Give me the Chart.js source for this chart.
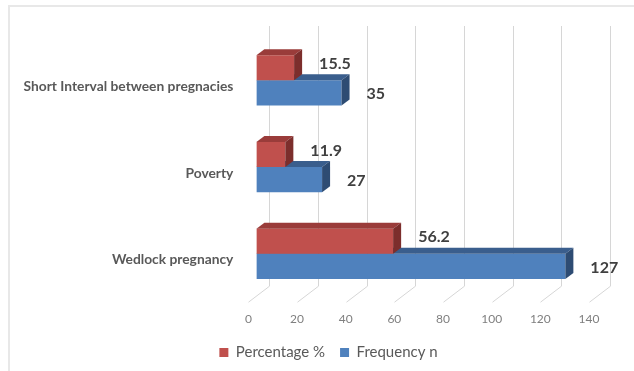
<!DOCTYPE html>
<html>
<head>
<meta charset="utf-8">
<title>Reasons</title>
<script src="https://cdn.jsdelivr.net/npm/chart.js@4/dist/chart.umd.min.js"></script>
<style>
    html, body { margin: 0; padding: 0; background: #fff; }
    #wrap { position: relative; width: 634px; height: 371px; overflow: hidden; }
    #frame {
        position: absolute; left: 8px; top: 5px; right: -2px; bottom: -2px;
        border-top: 2px solid #e8e8e8; border-left: 2px solid #e8e8e8;
    }
    #chart { position: absolute; left: 0; top: 0; }
</style>
</head>
<body>
<div id="wrap">
    <div id="frame"></div>
    <canvas id="chart" width="634" height="371"></canvas>
</div>
<script>
// Gegevens
const categories = ['Short Interval between pregnacies', 'Poverty', 'Wedlock pregnancy'];
const percentage = [15.5, 11.9, 56.2];
const frequency = [35, 27, 127];
const xTicks = [0, 20, 40, 60, 80, 100, 120, 140];

const FONT = 'Lato, "Open Sans", sans-serif';

// 3D look: diepte van de balken, achterwand en vloer
const depth = { dx: 8, dy: -6 };
const wall = { dx: 13, dy: -11 };
const floor = { dx: -21, dy: 16 };
const shades = [
    { top: '#9a3c3a', side: '#7c2e2c', labelDy: -4 },
    { top: '#3a5e8d', side: '#2e4c73', labelDy: 1 }
];

const threeD = {
    id: 'threeD',
    beforeDatasetsDraw(chart) {
        const ctx = chart.ctx;
        const xs = chart.scales.x;
        const area = chart.chartArea;
        ctx.save();
        ctx.strokeStyle = '#d6d6d6';
        ctx.lineWidth = 1;
        ctx.beginPath();
        xTicks.forEach(v => {
            const px = Math.round(xs.getPixelForValue(v) + wall.dx) + 0.5;
            const top = area.top + wall.dy;
            const bottom = area.bottom + wall.dy;
            ctx.moveTo(px, top);
            ctx.lineTo(px, bottom);
            ctx.lineTo(px + floor.dx, bottom + floor.dy);
        });
        ctx.stroke();
        ctx.restore();
    },
    afterDatasetDraw(chart, args) {
        const ctx = chart.ctx;
        const s = shades[args.index];
        const values = chart.data.datasets[args.index].data;
        ctx.save();
        args.meta.data.forEach((bar, j) => {
            const p = bar.getProps(['x', 'y', 'base', 'height'], true);
            const top = p.y - p.height / 2;
            const bottom = p.y + p.height / 2;
            const left = p.base;
            const right = p.x;

            ctx.fillStyle = s.top;
            ctx.beginPath();
            ctx.moveTo(left, top);
            ctx.lineTo(left + depth.dx, top + depth.dy);
            ctx.lineTo(right + depth.dx, top + depth.dy);
            ctx.lineTo(right, top);
            ctx.closePath();
            ctx.fill();

            ctx.fillStyle = s.side;
            ctx.beginPath();
            ctx.moveTo(right, top);
            ctx.lineTo(right + depth.dx, top + depth.dy);
            ctx.lineTo(right + depth.dx, bottom + depth.dy);
            ctx.lineTo(right, bottom);
            ctx.closePath();
            ctx.fill();

            // waardelabel
            ctx.fillStyle = '#404040';
            ctx.font = 'bold 16px ' + FONT;
            ctx.textAlign = 'left';
            ctx.textBaseline = 'middle';
            ctx.fillText(String(values[j]), right + 25, p.y + s.labelDy);
        });
        ctx.restore();
    }
};

new Chart(document.getElementById('chart').getContext('2d'), {
    type: 'bar',
    data: {
        labels: categories,
        datasets: [
            { label: 'Percentage %', data: percentage, backgroundColor: '#c0504d', borderWidth: 0 },
            { label: 'Frequency n', data: frequency, backgroundColor: '#4f81bd', borderWidth: 0 }
        ]
    },
    options: {
        indexAxis: 'y',
        responsive: false,
        animation: false,
        categoryPercentage: 0.58,
        barPercentage: 1,
        // rechts negatief + lege as: legenda schuift naar rechts zoals in het origineel
        layout: { padding: { top: 37, right: -23, bottom: 1, left: 0 } },
        scales: {
            x: {
                min: 0,
                max: 140,
                ticks: {
                    stepSize: 20,
                    labelOffset: -8,
                    padding: 15,
                    color: '#7f7f7f',
                    font: { family: FONT, size: 12 }
                },
                grid: { display: false, drawTicks: false },
                border: { display: false },
                afterFit: scale => { scale.height = 32.8; }
            },
            y: {
                ticks: {
                    padding: 23,
                    labelOffset: 6,
                    color: '#595959',
                    font: { family: FONT, size: 13.8, weight: 'bold' }
                },
                grid: { display: false, drawTicks: false },
                border: { display: false },
                afterFit: scale => { scale.width = 256.4; }
            },
            y2: {
                type: 'category',
                position: 'right',
                ticks: { display: false },
                grid: { display: false, drawTicks: false },
                border: { display: false },
                afterFit: scale => { scale.width = 60; }
            }
        },
        plugins: {
            legend: {
                position: 'bottom',
                labels: {
                    boxWidth: 9,
                    boxHeight: 9,
                    padding: 15,
                    color: '#595959',
                    font: { family: FONT, size: 15 }
                }
            },
            tooltip: { enabled: false }
        }
    },
    plugins: [threeD]
});
</script>
</body>
</html>
